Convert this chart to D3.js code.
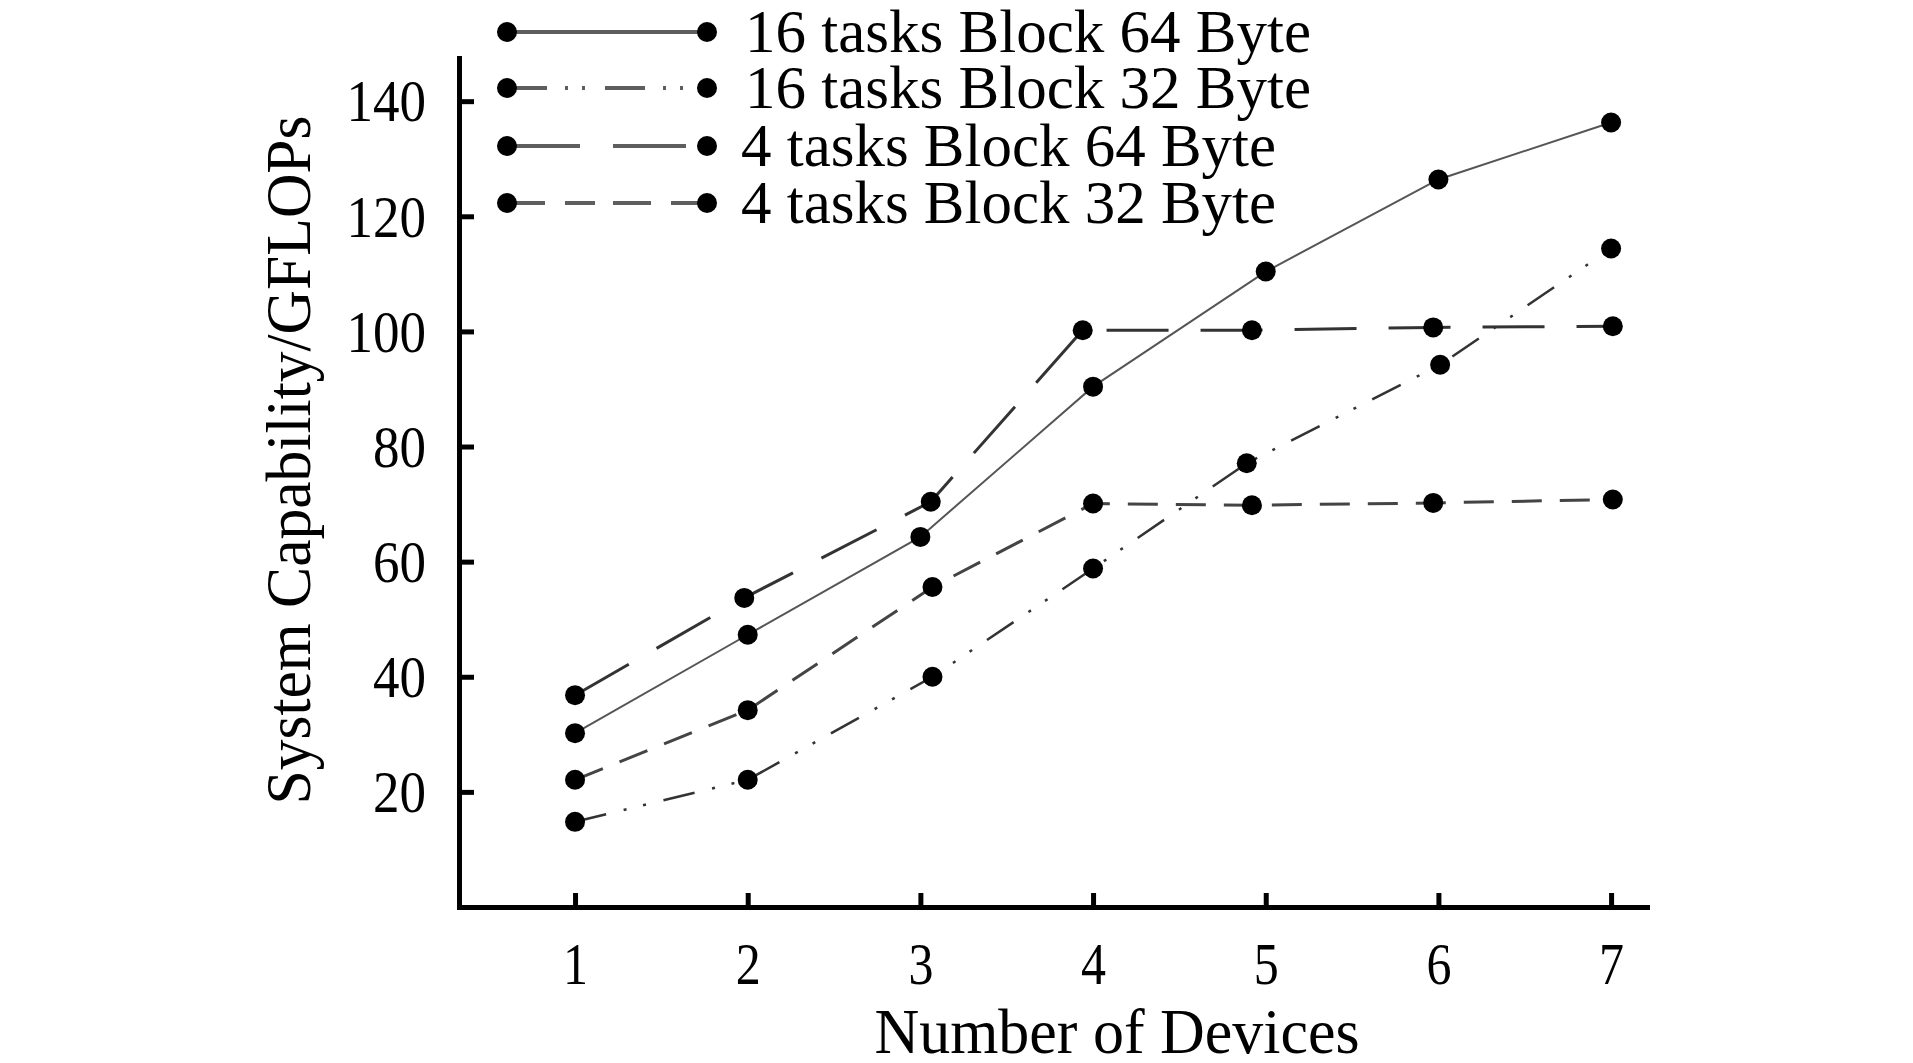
<!DOCTYPE html>
<html>
<head>
<meta charset="utf-8">
<script src="https://cdn.jsdelivr.net/npm/d3@7"></script>
<style>
  html, body { margin: 0; padding: 0; background: #fff; }
  text { font-family: "Liberation Serif", "DejaVu Serif", serif; fill: #000; }
</style>
</head>
<body>
<div id="chart"></div>
<script>
// values
const devices = [1, 2, 3, 4, 5, 6, 7];
const yTicks = [20, 40, 60, 80, 100, 120, 140];
const seriesNames = [
  '16 tasks Block 64 Byte',
  '16 tasks Block 32 Byte',
  '4 tasks Block 64 Byte',
  '4 tasks Block 32 Byte'
];
// x positions (points sit a little off the ticks in the original)
const x16b64 = [1, 2, 3, 4, 5, 6, 7];
const x16b32 = [1, 2, 3.07, 4, 4.89, 6.01, 7];
const x4b64 = [1, 1.98, 3.06, 3.94, 4.92, 5.97, 7.01];
const x4b32 = [1, 2, 3.07, 4, 4.92, 5.97, 7.01];
const y16b64 = [30.2, 47.3, 64.3, 90.4, 110.4, 126.4, 136.3];
const y16b32 = [14.8, 22.1, 40.0, 58.8, 77.1, 94.2, 114.4];
const y4b64 = [36.8, 53.7, 70.4, 100.2, 100.2, 100.7, 100.9];
const y4b32 = [22.1, 34.2, 55.6, 70.1, 69.8, 70.2, 70.8];

const W = 1913, H = 1063;
const svg = d3.select('#chart').append('svg')
  .attr('width', W)
  .attr('height', H);

const x = d3.scaleLinear().domain([0.328, 7.208]).range([459, 1647]);
const y = d3.scaleLinear().domain([0, 147.5]).range([907, 58]);

const series = [
  { name: seriesNames[0], xs: x16b64, ys: y16b64, dash: null, width: 2, color: '#555',
    legendDash: null },
  { name: seriesNames[1], xs: x16b32, ys: y16b32, dash: '32,18,3,17,3,18', width: 2.5, color: '#333',
    legendDash: '40,18,3,14,3,20' },
  { name: seriesNames[2], xs: x4b64, ys: y4b64, dash: '62,32', width: 3, color: '#333',
    legendDash: '73,33' },
  { name: seriesNames[3], xs: x4b32, ys: y4b32, dash: '30,18', width: 3, color: '#444',
    legendDash: '38,20,30,18' }
];

// axes
const yAxis = d3.axisLeft(y)
  .tickValues(yTicks)
  .tickSizeInner(-15)
  .tickSizeOuter(0)
  .tickPadding(33);

const gy = svg.append('g')
  .attr('transform', `translate(${x.range()[0]},0)`)
  .call(yAxis);

const xAxis = d3.axisBottom(x)
  .tickValues(devices)
  .tickSizeInner(-14)
  .tickSizeOuter(0)
  .tickFormat(d3.format('d'));

const gx = svg.append('g')
  .attr('transform', `translate(0,${y(0)})`)
  .call(xAxis);

[gx, gy].forEach(g => {
  g.select('.domain').attr('stroke', '#000').attr('stroke-width', 5).attr('stroke-linecap', 'square');
  g.selectAll('.tick line').attr('stroke', '#000').attr('stroke-width', 5);
  g.selectAll('.tick text')
    .attr('font-family', '"Liberation Serif", serif')
    .attr('font-size', 60)
    .attr('fill', '#000');
});

gy.selectAll('.tick text')
  .attr('dy', '0.33em')
  .attr('textLength', d => String(d).length * 26.5)
  .attr('lengthAdjust', 'spacingAndGlyphs');

gx.selectAll('.tick text')
  .attr('y', 77)
  .attr('dy', 0)
  .attr('textLength', 25)
  .attr('lengthAdjust', 'spacingAndGlyphs');

// axis titles
svg.append('text')
  .attr('x', 1117)
  .attr('y', 1053)
  .attr('text-anchor', 'middle')
  .attr('font-size', 63)
  .attr('textLength', 485)
  .attr('lengthAdjust', 'spacingAndGlyphs')
  .text('Number of Devices');

svg.append('text')
  .attr('transform', 'translate(310,460) rotate(-90)')
  .attr('text-anchor', 'middle')
  .attr('font-size', 64)
  .attr('textLength', 689)
  .attr('lengthAdjust', 'spacingAndGlyphs')
  .text('System Capability/GFLOPs');

// lines and points
const line = d3.line()
  .x(d => x(d[0]))
  .y(d => y(d[1]));

series.forEach(s => {
  const pts = s.xs.map((v, i) => [v, s.ys[i]]);
  svg.append('path')
    .datum(pts)
    .attr('d', line)
    .attr('fill', 'none')
    .attr('stroke', s.color)
    .attr('stroke-width', s.width)
    .attr('stroke-dasharray', s.dash);

  svg.append('g')
    .selectAll('circle')
    .data(pts)
    .join('circle')
    .attr('cx', d => x(d[0]))
    .attr('cy', d => y(d[1]))
    .attr('r', 10)
    .attr('fill', '#000');
});

// legend
const legendY = [32, 88, 146, 203];
const legendTextW = [566, 566, 535, 535];
const legend = svg.append('g');

series.forEach((s, i) => {
  const g = legend.append('g').attr('transform', `translate(0,${legendY[i]})`);
  g.append('line')
    .attr('x1', 507).attr('x2', 707)
    .attr('stroke', '#5e5e5e')
    .attr('stroke-width', 4)
    .attr('stroke-dasharray', s.legendDash);
  g.selectAll('circle')
    .data([507, 707])
    .join('circle')
    .attr('cx', d => d)
    .attr('r', 10)
    .attr('fill', '#000');
  g.append('text')
    .attr('x', i < 2 ? 745 : 741)
    .attr('y', 20)
    .attr('font-size', 61)
    .attr('textLength', legendTextW[i])
    .attr('lengthAdjust', 'spacingAndGlyphs')
    .text(s.name);
});
</script>
</body>
</html>
